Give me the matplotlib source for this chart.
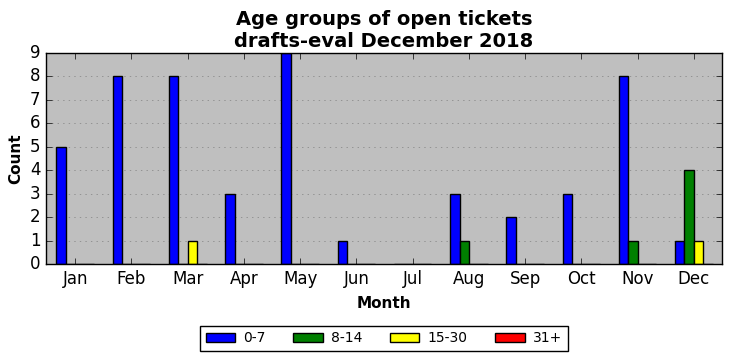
import numpy as np
import matplotlib
matplotlib.use('Agg')
import matplotlib.pyplot as plt

plt.style.use('classic')

months = ['Jan', 'Feb', 'Mar', 'Apr', 'May', 'Jun', 'Jul', 'Aug', 'Sep', 'Oct', 'Nov', 'Dec']
age_0_7 = [5, 8, 8, 3, 9, 1, 0, 3, 2, 3, 8, 1]
age_8_14 = [0, 0, 0, 0, 0, 0, 0, 1, 0, 0, 1, 4]
age_15_30 = [0, 0, 1, 0, 0, 0, 0, 0, 0, 0, 0, 1]
age_31 = [0, 0, 0, 0, 0, 0, 0, 0, 0, 0, 0, 0]

series = [(age_0_7, 'blue', '0-7'), (age_8_14, 'green', '8-14'),
          (age_15_30, 'yellow', '15-30'), (age_31, 'red', '31+')]

fig = plt.figure(figsize=(7.32, 3.61), dpi=100)
fig.patch.set_facecolor('white')
ax = fig.add_axes([46/732, 1 - 264/361, 676/732, 211/361])
ax.set_facecolor('#bfbfbf')

x = np.arange(1, 13)
w = 0.167
for i, (vals, col, lab) in enumerate(series):
    ax.bar(x + (i - 2) * w, vals, w, align='edge', color=col,
           edgecolor='black', label=lab)

ax.set_xlim(0.48, 12.5)
ax.set_ylim(0, 9)
ax.set_yticks(range(10))
ax.set_xticks(x)
ax.set_xticklabels(months)
ax.yaxis.grid(True, linestyle=':', color='#808080')
ax.xaxis.grid(False)
ax.set_axisbelow(True)

ax.set_title('Age groups of open tickets\ndrafts-eval December 2018',
             fontsize=14, fontweight='bold', linespacing=1.2, pad=4)
ax.set_xlabel('Month', fontsize=11, fontweight='bold', labelpad=6)
ax.set_ylabel('Count', fontsize=11, fontweight='bold')

ax.legend(loc='upper center', bbox_to_anchor=(0.5, -0.26), ncol=4,
          fontsize=10, fancybox=False, frameon=True, handlelength=2.1,
          handletextpad=0.6, columnspacing=2.0)

fig.savefig('out.png', dpi=100, facecolor='white')
